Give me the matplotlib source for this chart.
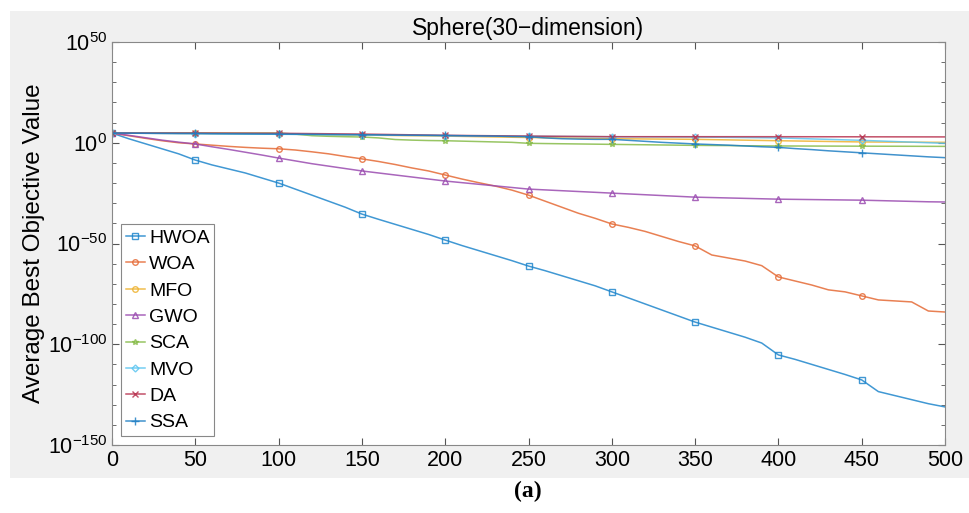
import numpy as np
import matplotlib
matplotlib.use("Agg")
import matplotlib.pyplot as plt
from matplotlib.patches import Rectangle
from matplotlib.ticker import LogLocator, NullFormatter

plt.rcParams['font.family'] = ['Liberation Sans', 'DejaVu Sans']

# iterations (fine grid every 10, coarse grid every 50)
iters_fine = list(range(0, 501, 10))
iters_coarse = list(range(0, 501, 50))

# log10 of average best objective value
hwoa = [4.8, 2, -0.5, -3, -5.5, -8.6, -11, -13, -15, -17.5,
        -20, -23, -26, -29, -32, -35.4, -38, -40.5, -43, -45.5,
        -48.3, -51, -53.5, -56, -58.5, -61.2, -63.5, -66, -68.5, -71,
        -74, -77, -80, -83, -86, -89, -91.5, -94, -96.5, -99.4,
        -105.3, -107.5, -110, -112.5, -115, -117.7, -123.5, -125.5, -127.5, -129.5,
        -131.1]
woa = [4.8, 3.5, 2.2, 1, 0, -0.6, -1.2, -1.8, -2.3, -2.7,
       -3, -3.6, -4.5, -5.5, -6.8, -8, -9.3, -10.8, -12.5, -14,
       -16, -18, -19.8, -21.5, -23.5, -26, -29, -32, -35, -37.5,
       -40.3, -42, -44, -46.5, -49, -51.2, -55.7, -57.2, -58.7, -61,
       -66.6, -68.6, -70.6, -73, -74, -76, -78, -78.5, -79, -83.5,
       -84]
gwo = [4.8, 3.7, 2.5, 1.3, 0.3, -0.6, -2, -3.3, -4.7, -6.1,
       -7.6, -9, -10.4, -11.6, -12.8, -14, -15, -16, -17, -18,
       -19, -19.8, -20.6, -21.4, -22.2, -23, -23.4, -23.8, -24.2, -24.6,
       -25, -25.4, -25.8, -26.2, -26.6, -27, -27.2, -27.4, -27.6, -27.8,
       -28, -28.1, -28.2, -28.3, -28.4, -28.5, -28.7, -28.9, -29.1, -29.3,
       -29.4]
sca = [4.8, 4.8, 4.8, 4.8, 4.8, 4.8, 4.8, 4.8, 4.8, 4.8,
       4.8, 4.3, 3.5, 3.2, 3.0, 2.85, 2.4, 1.6, 1.3, 1.1,
       1.0, 0.8, 0.6, 0.4, 0.2, -0.27, -0.4, -0.5, -0.6, -0.7,
       -0.8, -0.9, -1.0, -1.1, -1.2, -1.3, -1.35, -1.4, -1.5, -1.55,
       -1.6, -1.62, -1.64, -1.66, -1.68, -1.7, -1.72, -1.74, -1.76, -1.78,
       -1.8]
ssa = [4.8, 4.75, 4.7, 4.65, 4.6, 4.6, 4.5, 4.45, 4.4, 4.35,
       4.3, 4.25, 4.2, 4.1, 4.05, 4.0, 3.9, 3.8, 3.75, 3.7,
       3.6, 3.5, 3.4, 3.3, 3.1, 3.0, 2.4, 2.0, 1.8, 1.7,
       1.7, 1.2, 0.7, 0.2, -0.2, -0.6, -0.9, -1.2, -1.6, -2.0,
       -2.3, -2.9, -3.4, -4.0, -4.5, -5.0, -5.5, -6.0, -6.5, -7.0,
       -7.4]
mfo = [4.8, 4.6, 4.3, 3.8, 3.3, 2.6, 2.0, 1.7, 1.0, 0.4, 0.2]
mvo = [4.8, 4.5, 4.2, 3.9, 3.5, 3.2, 3.0, 2.85, 2.4, 1.2, -0.3]
da = [4.8, 4.8, 4.7, 4.3, 3.7, 3.3, 3.0, 3.0, 3.0, 2.95, 2.9]

names = ['HWOA', 'WOA', 'MFO', 'GWO', 'SCA', 'MVO', 'DA', 'SSA']
series = [hwoa, woa, mfo, gwo, sca, mvo, da, ssa]
grids = [iters_fine, iters_fine, iters_coarse, iters_fine,
         iters_fine, iters_coarse, iters_coarse, iters_fine]
colors = ['#1f86cc', '#e56a35', '#eeb22e', '#9a4bb0',
          '#86bb48', '#5cc5f0', '#b8324f', '#1f7fc4']
markers = ['s', 'o', 'o', '^', '*', 'D', 'x', '+']
msizes = [4, 4, 4, 5, 4, 3.5, 5, 6]

fig = plt.figure(figsize=(9.69, 5.13), dpi=100)
fig.patches.append(Rectangle((10 / 969, 1 - 478 / 513), 1, (478 - 11) / 513,
                             transform=fig.transFigure, facecolor='#f0f0f0',
                             edgecolor='none', zorder=-10))
ax = fig.add_axes([112 / 969, 1 - 445 / 513, 833 / 969, 403 / 513])

for name, vals, grid, c, m, ms in zip(names, series, grids, colors, markers, msizes):
    step = 5 if len(grid) > 11 else 1
    ax.plot(grid, 10.0 ** np.array(vals), color=c, lw=1.1, alpha=0.85,
            marker=m, ms=ms, mfc='none', mew=1.0,
            markevery=slice(0, len(grid) - 1, step), label=name)

ax.set_yscale('log')
ax.set_xlim(0, 500)
ax.set_ylim(1e-150, 1e50)
ax.set_xticks(range(0, 501, 50))
ax.set_yticks([1e-150, 1e-100, 1e-50, 1e0, 1e50])
ax.yaxis.set_minor_locator(LogLocator(base=1e10, numticks=30))
ax.yaxis.set_minor_formatter(NullFormatter())
ax.tick_params(which='both', direction='in', top=True, right=True,
               labelsize=15.5, color='#555555')
ax.tick_params(which='major', length=5)
ax.tick_params(which='minor', length=3)
for s in ax.spines.values():
    s.set_color('#888888')
    s.set_linewidth(0.8)

ax.set_title('Sphere(30\u2212dimension)', fontsize=16.5, pad=5)
ax.set_ylabel('Average Best Objective Value', fontsize=17.5, labelpad=2)

leg = ax.legend(loc='lower left', bbox_to_anchor=(0.0, 0.0), fontsize=14,
                handlelength=1.0, handletextpad=0.2, labelspacing=0.45,
                borderpad=0.25, borderaxespad=0.45, fancybox=False, framealpha=1)
leg.get_frame().set_edgecolor('#888888')
leg.get_frame().set_linewidth(0.8)

fig.text(528 / 969, 1 - 491 / 513, '(a)', ha='center', va='center',
         fontsize=17, fontweight='bold', family='Liberation Serif')

fig.savefig('out.png', dpi=100, facecolor='white')
